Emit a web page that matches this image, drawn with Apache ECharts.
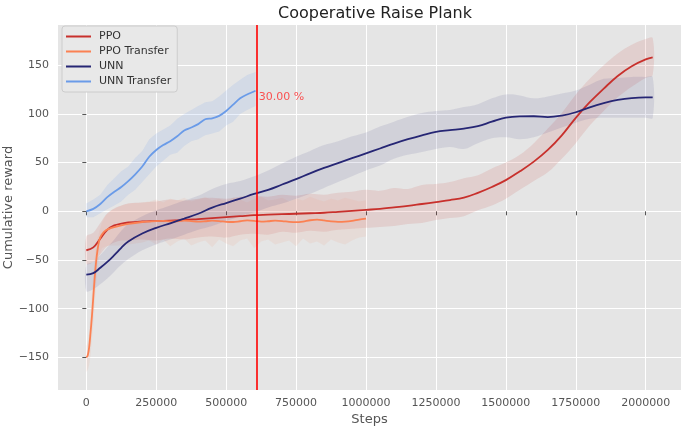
<!DOCTYPE html>
<html><head><meta charset="utf-8">
<script src="https://cdn.jsdelivr.net/npm/echarts@6/dist/echarts.min.js"></script>
<style>html,body{margin:0;padding:0;background:#fff}#c{width:685px;height:428px}</style>
</head><body><div id="c"></div>
<script>
const TITLE = 'Cooperative Raise Plank';
const X_LABEL = 'Steps';
const Y_LABEL = 'Cumulative reward';
const seriesNames = ['PPO', 'PPO Transfer', 'UNN', 'UNN Transfer'];
const xTicks = [0, 250000, 500000, 750000, 1000000, 1250000, 1500000, 1750000, 2000000];
const yTicks = [-150, -100, -50, 0, 50, 100, 150];
const markerStep = 609000;
const markerValue = 117;
const markerText = '30.00 %';

// PPO and UNN share the same step grid
const steps = [0,25000,50000,75000,100000,125000,150000,200000,250000,300000,350000,400000,450000,500000,550000,600000,650000,700000,750000,800000,850000,900000,950000,1000000,1050000,1100000,1150000,1200000,1250000,1300000,1350000,1400000,1450000,1500000,1550000,1600000,1650000,1700000,1750000,1800000,1850000,1900000,1950000,2000000,2025000];
const ppo = [-40,-37,-28,-19,-14.5,-12.7,-11.5,-10.5,-10,-9.5,-9,-8,-7,-6,-5,-4,-3.5,-3,-2.5,-2,-1.5,-0.5,0.5,1.5,2.5,4,5.5,7.5,9.5,11.5,14,19,25,32,41,51,63,78,96,112,126,139,149,156,158];
const ppoUpper = [-26,-22,-12,-2,3,6,8,9,10,12,11,13,14,13,15,16,15,17,16,18,17,19,20,22,21,24,23,27,28,30,34,37,44,50,58,70,85,101,120,136,150,162,171,177,178];
const ppoLower = [-54,-52,-44,-36,-32,-30,-30,-29,-30,-28,-29,-27,-26,-27,-24,-23,-24,-21,-22,-20,-21,-19,-18,-17,-16,-15,-13,-12,-9,-7,-5,1,6,13,22,31,40,54,70,88,103,117,128,137,140];
const unn = [-65,-63.5,-58,-52,-45,-37.5,-31,-22.8,-17,-12.3,-7.5,-2.5,3.8,8.5,13,17.8,22,27.5,33,39,44.5,49.5,54.5,59.5,64.5,69.5,74,78,81.5,83.3,85,87.5,92,96.2,97.5,97.6,96.8,98.3,101.7,106.8,111,114.3,116.3,117,117];
const unnUpper = [-55,-52,-45,-37,-29,-20,-13,-5,1,6,11,16,23,28,31,36,42,49,56,62,68,72,77,81,87,92,97,101,103,104,107,110,116,120,119,116,118,121,124,130,136,137,138,138,138];
const unnLower = [-82,-80,-75,-69,-62,-55,-49,-40,-34,-29,-24,-19,-15,-10,-5,-1,4,8,13,18,24,30,36,42,47,54,58,61,64,66,64,70,75,76,74,76,81,86,91,95,96,96,96,96,96];

const ppoTSteps = [0,5000,10000,15000,20000,25000,30000,35000,40000,47000,55000,70000,90000,117000,150000,200000,225000,250000,275000,300000,325000,350000,375000,400000,425000,450000,475000,500000,525000,550000,575000,600000,625000,650000,675000,700000,725000,750000,775000,800000,825000,850000,875000,900000,925000,950000,975000,1000000];
const ppoT = [-150,-148,-140,-125,-108,-88,-68,-52,-40,-29,-24,-19.5,-17,-15,-13,-11,-10.5,-10,-9.8,-10.5,-10.2,-9.5,-10,-10.6,-10.2,-9.6,-10,-10.8,-11,-10.2,-9.4,-9.8,-10.6,-10.2,-9.6,-10,-10.8,-11.2,-10.5,-9.2,-8.6,-9.4,-10.3,-10.8,-10.6,-9.8,-8.5,-7.5];
const ppoTUpper = [-138,-135,-125,-105,-85,-65,-48,-36,-28,-20,-12,-4,1,5,8,9,10,12,9,13,11,14,10,12,15,11,13,10,14,12,9,13,15,11,12,14,10,13,11,15,12,10,13,11,14,12,10,11];
const ppoTLower = [-165,-163,-158,-148,-132,-115,-95,-75,-58,-45,-38,-36,-35,-35,-34,-32,-30,-34,-29,-36,-31,-28,-35,-32,-30,-37,-29,-33,-36,-30,-28,-38,-31,-29,-34,-32,-30,-36,-28,-33,-31,-35,-29,-32,-34,-30,-27,-26];

const unnTSteps = [0,25000,50000,75000,100000,125000,150000,175000,200000,225000,250000,275000,300000,325000,350000,375000,400000,425000,450000,475000,500000,525000,550000,575000,605000];
const unnT = [0,2.5,7.5,14.5,20,25,31,38,46,56,63,68,72,77,83,86,89.5,94.5,95.5,98,103,109.5,116,120,123.8];
const unnTUpper = [8,12,17,27,34,41,46,55,62,74,80,84,88,95,100,104,108,112,113,118,124,130,135,140,143];
const unnTLower = [-6,-6,-2,2,6,10,17,22,30,38,46,52,58,60,67,72,74,78,80,82,88,92,100,104,108];

const colors = {
  'PPO': '#c8302c',
  'PPO Transfer': '#fb8153',
  'UNN': '#262674',
  'UNN Transfer': '#6a9be8'
};
const FONT = 'DejaVu Sans';

function pairs(xs, ys) { return xs.map((x, i) => [x, ys[i]]); }

function band(name, xs, up, lo, color, opacity, smooth) {
  return {
    type: 'custom', name: name + ' band', coordinateSystem: 'cartesian2d',
    clip: true, silent: true, z: 1,
    data: [[xs[0], lo[0]]],
    renderItem: function (params, api) {
      const pts = [];
      for (let i = 0; i < xs.length; i++) pts.push(api.coord([xs[i], up[i]]));
      for (let i = xs.length - 1; i >= 0; i--) pts.push(api.coord([xs[i], lo[i]]));
      return { type: 'polygon', shape: { points: pts, smooth: smooth }, style: { fill: color, opacity: opacity } };
    }
  };
}
function line(name, xs, ys, smooth) {
  return {
    type: 'line', name: name, data: pairs(xs, ys), showSymbol: false, smooth: smooth,
    z: 3, color: colors[name], lineStyle: { width: 1.8, color: colors[name] }, silent: true
  };
}
function fmt(v) { return v < 0 ? '\u2212' + Math.abs(v) : String(v); }

const chart = echarts.init(document.getElementById('c'));
chart.setOption({
  animation: false,
  backgroundColor: '#ffffff',
  title: {
    text: TITLE, left: 370, top: 1, textAlign: 'center',
    textStyle: { fontFamily: FONT, fontSize: 16, fontWeight: 'normal', color: '#222' }
  },
  legend: {
    data: seriesNames, orient: 'vertical', left: 62, top: 26,
    padding: [5, 6, 5, 4], itemGap: 4, itemWidth: 25, itemHeight: 2, icon: 'rect',
    backgroundColor: '#e8e8e8', borderColor: '#cccccc', borderWidth: 1, borderRadius: 3,
    textStyle: { fontFamily: FONT, fontSize: 11, color: '#333', padding: [0, 0, 0, 3] }
  },
  grid: { left: 58, right: 4, top: 25, bottom: 38, outerBoundsMode: 'none', containLabel: false,
          show: true, backgroundColor: '#e5e5e5', borderWidth: 0 },
  xAxis: {
    type: 'value', min: -101250, max: 2126250,
    name: X_LABEL, nameLocation: 'middle', nameGap: 23, nameMoveOverlap: false,
    nameTextStyle: { fontFamily: FONT, fontSize: 13, color: '#555' },
    axisLine: { show: false },
    axisTick: { show: true, length: 4, customValues: xTicks, lineStyle: { color: '#555' } },
    axisLabel: { customValues: xTicks, fontFamily: FONT, fontSize: 11, color: '#555', margin: 8, formatter: fmt },
    splitLine: { show: true, lineStyle: { color: '#ffffff', width: 1 } }
  },
  yAxis: {
    type: 'value', min: -183.5, max: 191.3,
    name: Y_LABEL, nameLocation: 'middle', nameGap: 43, nameMoveOverlap: false,
    nameTextStyle: { fontFamily: FONT, fontSize: 13, color: '#555' },
    axisLine: { show: false },
    axisTick: { show: true, length: 4, customValues: yTicks, lineStyle: { color: '#555' } },
    axisLabel: { customValues: yTicks, fontFamily: FONT, fontSize: 11, color: '#555', margin: 9, formatter: fmt },
    splitLine: { show: true, lineStyle: { color: '#ffffff', width: 1 } }
  },
  series: [
    band('PPO', steps, ppoUpper, ppoLower, colors['PPO'], 0.12, 0.35),
    band('PPO Transfer', ppoTSteps, ppoTUpper, ppoTLower, '#f4a08a', 0.14, 0),
    band('UNN', steps, unnUpper, unnLower, colors['UNN'], 0.1, 0.35),
    band('UNN Transfer', unnTSteps, unnTUpper, unnTLower, colors['UNN Transfer'], 0.15, 0),
    line('PPO', steps, ppo, 0.4),
    line('PPO Transfer', ppoTSteps, ppoT, 0.3),
    line('UNN', steps, unn, 0.4),
    line('UNN Transfer', unnTSteps, unnT, 0.3),
    {
      type: 'scatter', name: 'marker', data: [[markerStep, markerValue]], symbolSize: 0, z: 4, silent: true,
      label: { show: true, position: 'right', distance: 2, formatter: markerText, fontFamily: FONT, fontSize: 11, color: '#ff2a2a' },
      markLine: {
        silent: true, symbol: 'none', label: { show: false },
        lineStyle: { color: '#ff0000', width: 1.6, type: 'solid' },
        data: [{ xAxis: markerStep }]
      }
    }
  ]
});
</script></body></html>
